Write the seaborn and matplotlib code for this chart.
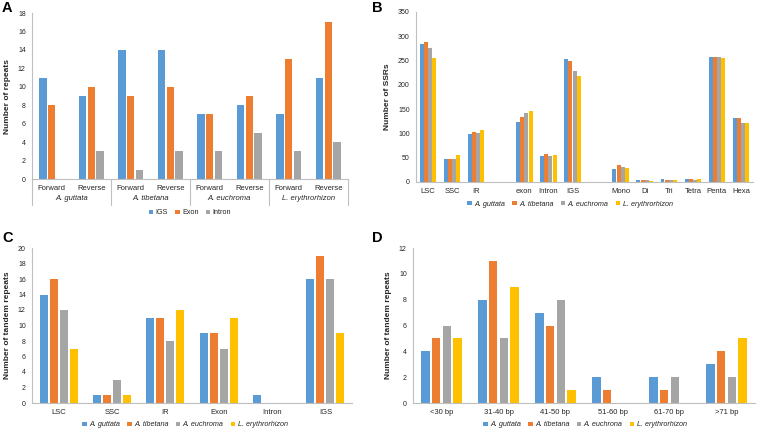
import matplotlib
matplotlib.use('Agg')  # no display
import matplotlib.pyplot as plt
import matplotlib.transforms as mtransforms
import seaborn as sns
import pandas as pd

# Excel-like colours
BLUE = '#5B9BD5'
ORANGE = '#ED7D31'
GRAY = '#A5A5A5'
YELLOW = '#FFC000'
AXIS_COLOR = '#BFBFBF'
TEXT_COLOR = '#262626'
PALETTE = [BLUE, ORANGE, GRAY, YELLOW]

# --- data -------------------------------------------------------------
SPECIES = ['A. guttata', 'A. tibetana', 'A. euchroma', 'L. erythrorhizon']
SPECIES_D = ['A. guttata', 'A. tibetana', 'A. euchrona', 'L. erythrorhizon']
DIRECTIONS = ['Forward', 'Reverse']
REPEAT_TYPES = ['IGS', 'Exon', 'Intron']

# panel A, order: species x (Forward, Reverse)
A_IGS = [11, 9, 14, 14, 7, 8, 7, 11]
A_EXON = [8, 10, 9, 10, 7, 9, 13, 17]
A_INTRON = [0, 3, 1, 3, 3, 5, 3, 4]

# panel B
SSR_CATS = ['LSC', 'SSC', 'IR', ' ', 'exon', 'Intron', 'IGS', '  ',
            'Mono', 'Di', 'Tri', 'Tetra', 'Penta', 'Hexa']
SSR_LABELS = ['LSC', 'SSC', 'IR', 'exon', 'Intron', 'IGS',
              'Mono', 'Di', 'Tri', 'Tetra', 'Penta', 'Hexa']
SSR_GUTTATA = [284, 47, 99, 123, 54, 253, 26, 4, 6, 6, 257, 131]
SSR_TIBETANA = [289, 48, 102, 133, 57, 249, 35, 4, 4, 6, 257, 131]
SSR_EUCHROMA = [275, 48, 100, 142, 53, 229, 31, 4, 4, 4, 257, 122]
SSR_ERYTHRORHIZON = [255, 55, 108, 146, 55, 219, 29, 2, 4, 6, 255, 122]

# panel C
TR_REGIONS = ['LSC', 'SSC', 'IR', 'Exon', 'Intron', 'IGS']
TR_GUTTATA = [14, 1, 11, 9, 1, 16]
TR_TIBETANA = [16, 1, 11, 9, 0, 19]
TR_EUCHROMA = [12, 3, 8, 7, 0, 16]
TR_ERYTHRORHIZON = [7, 1, 12, 11, 0, 9]

# panel D
TR_LENGTHS = ['<30 bp', '31-40 bp', '41-50 bp', '51-60 bp', '61-70 bp', '>71 bp']
LEN_GUTTATA = [4, 8, 7, 2, 2, 3]
LEN_TIBETANA = [5, 11, 6, 1, 1, 4]
LEN_EUCHROMA = [6, 5, 8, 0, 2, 2]
LEN_ERYTHRORHIZON = [5, 9, 1, 0, 0, 5]


def long_df(cats, series, names):
    rows = []
    for name, vals in zip(names, series):
        for c, v in zip(cats, vals):
            rows.append({'cat': c, 'group': name, 'value': v})
    return pd.DataFrame(rows)


def style_axes(ax, ymax, ystep, ylabel):
    sns.despine(ax=ax)
    for s in ['left', 'bottom']:
        ax.spines[s].set_color(AXIS_COLOR)
        ax.spines[s].set_linewidth(0.8)
    ax.set_ylim(0, ymax)
    ax.set_yticks(range(0, ymax + 1, ystep))
    ax.tick_params(axis='y', length=2.5, width=0.6, color=AXIS_COLOR,
                   labelsize=5, pad=2, labelcolor=TEXT_COLOR)
    ax.tick_params(axis='x', length=0, labelsize=5.5, pad=4, labelcolor=TEXT_COLOR)
    ax.set_ylabel(ylabel, fontsize=6, fontweight='bold', labelpad=5, color=TEXT_COLOR)
    ax.set_xlabel('')


def place_legend(ax, x, y, italic=True):
    sns.move_legend(ax, 'center', bbox_to_anchor=(x, y), bbox_transform=fig.transFigure,
                    ncol=4, frameon=False, title=None, fontsize=5.2,
                    handlelength=0.6, handleheight=0.6, handletextpad=0.35,
                    columnspacing=1.0, borderaxespad=0)
    for t in ax.get_legend().get_texts():
        t.set_color(TEXT_COLOR)
        if italic:
            t.set_style('italic')


def draw_bars(ax, df, order, hue_order, palette, width, gap):
    sns.barplot(data=df, x='cat', y='value', hue='group', order=order,
                hue_order=hue_order, palette=palette, width=width, gap=gap,
                saturation=1, linewidth=0, errorbar=None, ax=ax)


sns.set_theme(style='white')
plt.rcParams['font.family'] = ['Liberation Sans', 'DejaVu Sans']

W, H = 758, 430
fig = plt.figure(figsize=(W / 100, H / 100), dpi=100)


def px_axes(left, top, right, bottom):
    return fig.add_axes([left / W, 1 - bottom / H, (right - left) / W, (bottom - top) / H])


# ---- A --------------------------------------------------------------
axA = px_axes(32, 13, 348, 179)
a_cats = [f'{s}|{d}' for s in SPECIES for d in DIRECTIONS]
dfA = long_df(a_cats, [A_IGS, A_EXON, A_INTRON], REPEAT_TYPES)
draw_bars(axA, dfA, a_cats, REPEAT_TYPES, PALETTE[:3], 0.66, 0.18)
style_axes(axA, 18, 2, 'Number of repeats')
axA.set_xlim(-0.5, len(a_cats) - 0.5)
axA.set_xticks(range(len(a_cats)))
axA.set_xticklabels(DIRECTIONS * len(SPECIES))
trans = mtransforms.blended_transform_factory(axA.transData, axA.transAxes)
for i in range(len(SPECIES) + 1):
    b = 2 * i - 0.5
    axA.plot([b, b], [0, -0.157], transform=trans, clip_on=False,
             color=AXIS_COLOR, lw=0.8)
for i, s in enumerate(SPECIES):
    axA.text(2 * i + 0.5, -0.12, s, transform=trans, ha='center', va='center',
             fontsize=5.5, style='italic', color=TEXT_COLOR)
place_legend(axA, 190 / W, 1 - 213 / H, italic=False)

# ---- B --------------------------------------------------------------
axB = px_axes(416, 12, 753, 182)
dfB = long_df(SSR_LABELS, [SSR_GUTTATA, SSR_TIBETANA, SSR_EUCHROMA, SSR_ERYTHRORHIZON], SPECIES)
draw_bars(axB, dfB, SSR_CATS, SPECIES, PALETTE, 0.69, 0.05)
style_axes(axB, 350, 50, 'Number of SSRs')
axB.set_xlim(-0.5, len(SSR_CATS) - 0.5)
place_legend(axB, 570 / W, 1 - 204 / H)

# ---- C --------------------------------------------------------------
axC = px_axes(32, 248, 352, 403)
dfC = long_df(TR_REGIONS, [TR_GUTTATA, TR_TIBETANA, TR_EUCHROMA, TR_ERYTHRORHIZON], SPECIES)
draw_bars(axC, dfC, TR_REGIONS, SPECIES, PALETTE, 0.75, 0.23)
style_axes(axC, 20, 2, 'Number of tandem repeats')
axC.set_xlim(-0.5, len(TR_REGIONS) - 0.5)
place_legend(axC, 185 / W, 1 - 425 / H)

# ---- D --------------------------------------------------------------
axD = px_axes(413, 248, 755, 403)
dfD = long_df(TR_LENGTHS, [LEN_GUTTATA, LEN_TIBETANA, LEN_EUCHROMA, LEN_ERYTHRORHIZON], SPECIES_D)
draw_bars(axD, dfD, TR_LENGTHS, SPECIES_D, PALETTE, 0.75, 0.22)
style_axes(axD, 12, 2, 'Number of tandem repeats')
axD.set_xlim(-0.5, len(TR_LENGTHS) - 0.5)
place_legend(axD, 585 / W, 1 - 425 / H)

# panel letters
for letter, x, y in [('A', 2, 8), ('B', 372, 8), ('C', 2, 238), ('D', 372, 238)]:
    fig.text(x / W, 1 - y / H, letter, fontsize=10.5, fontweight='bold',
             ha='left', va='center', color='black')

fig.savefig('out.png', dpi=100, facecolor='white')
